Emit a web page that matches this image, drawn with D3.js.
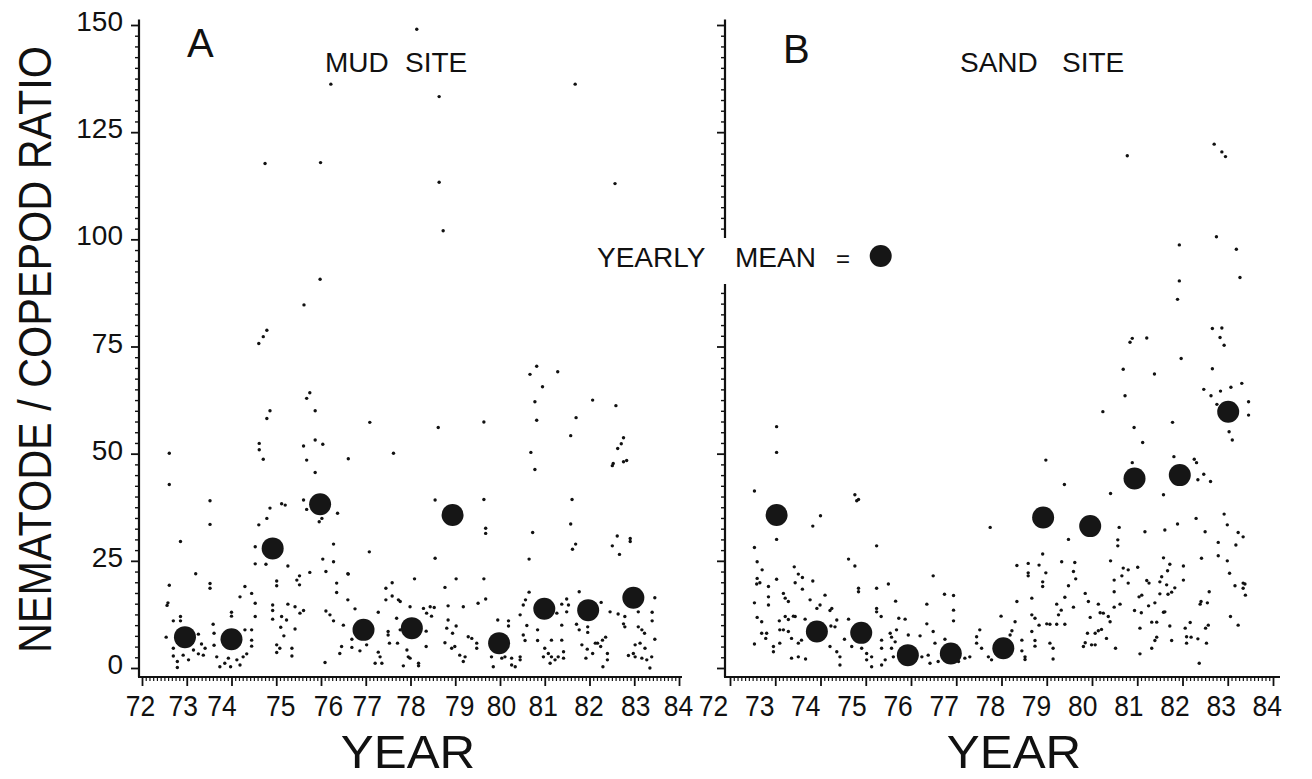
<!DOCTYPE html>
<html>
<head>
<meta charset="utf-8">
<script src="https://cdn.jsdelivr.net/npm/d3@7"></script>
<style>
  html, body { margin: 0; padding: 0; background: #fff; }
  svg { display: block; }
  text { font-family: "Liberation Sans", Arial, Helvetica, sans-serif; fill: #111; }
</style>
</head>
<body>
<svg id="chart" width="1312" height="779"></svg>
<script>
// ---------------- DATA ----------------
const yearTicks = [72,73,74,75,76,77,78,79,80,81,82,83,84];
const ratioTicks = [0,25,50,75,100,125,150];

// Panel A: mud site — individual samples [year, ratio]
const mudSamples = [
[74.61,75.7],[74.71,77.3],[74.79,78.8],[74.75,117.7],[75.62,84.7],[75.98,90.7],[75.99,117.9],[76.22,136.2],[78.14,149.0],[78.64,133.3],[78.64,113.3],[78.73,102.0],[81.68,136.2],[82.57,113.0],
[74.79,58.2],[74.86,60.0],[75.68,62.9],[75.75,64.2],[75.87,60.0],[75.87,53.2],[76.04,52.2],[75.61,51.8],[75.68,48.5],[75.87,45.6],[76.61,48.8],[77.09,57.3],[77.62,50.1],[78.55,39.2],[78.62,56.1],[78.55,25.6],[77.08,27.1],[76.61,21.9],[78.09,20.8],
[74.62,52.4],[74.62,50.9],[74.71,48.7],
[72.61,50.1],[72.61,42.8],[72.86,29.5],[73.2,22.0],[72.61,19.3],[72.56,14.6],[72.58,15.2],[72.70,11.0],[72.86,12.0],[72.86,11.0],[72.54,7.2],[72.70,4.6],[72.70,2.8],[72.79,1.5],[72.79,0.1],[72.92,3.0],[73.04,1.9],[73.26,7.9],[73.41,4.6],[73.37,3.0],[73.26,3.3],[73.15,4.2],[73.33,5.6],
[73.52,39.0],[73.52,33.5],[73.52,19.7],[73.52,18.6],[73.59,10.2],[73.61,8.1],[73.61,5.3],[74.0,13.0],[74.0,12.1],
[74.19,16.6],[74.30,19.0],[74.45,17.4],[74.53,15.1],[74.53,12.0],[74.30,8.9],[74.45,8.9],[74.45,6.5],[74.45,5.1],
[73.67,2.6],[73.74,0.3],[73.85,1.1],[73.93,2.3],[73.98,0.3],[74.12,1.9],[74.19,0.7],[74.34,3.3],[74.26,2.6],
[74.86,37.3],[74.79,34.9],[74.61,33.4],[75.12,38.3],[75.2,38.0],[75.61,39.2],[75.68,37.0],[76.02,34.9],[75.96,34.1],[76.37,36.1],
[74.53,28.3],[74.53,24.3],[74.77,24.2],[75.26,23.8],[75.46,20.5],[75.52,21.5],[75.52,19.4],[75.75,22.3],[76.04,25.4],[76.11,22.5],[76.28,28.9],[76.28,24.8],[76.6,22.0],
[75.01,20.3],[75.01,19.2],[74.92,14.7],[74.92,13.4],[74.92,11.4],[75.12,12.0],[75.23,11.2],[75.17,7.5],[75.1,9.5],[75.26,14.9],[75.42,14.3],[75.53,12.8],[75.61,13.4],[75.42,9.1],
[75.01,5.4],[75.08,4.6],[75.35,4.6],[75.35,2.8],[75.01,3.6],
[76.11,13.3],[76.2,12.4],[76.28,11.0],[76.35,19.8],[76.35,17.6],[76.6,15.9],[76.09,1.3],[76.5,10.0],[76.76,13.8],
[76.69,6.7],[76.46,5.0],[76.42,3.4],[76.69,4.8],[76.87,4.0],[77.02,5.4],[77.28,3.7],[77.32,2.6],[77.21,1.1],[77.36,1.1],[77.28,13.0],
[77.45,18.6],[77.59,19.9],[77.45,15.9],[77.59,16.8],[77.73,15.9],[77.77,15.5],[77.5,8.5],[77.5,7.7],[77.53,5.8],[77.69,11.6],[77.77,8.9],[77.71,5.8],
[77.92,4.2],[77.95,2.6],[77.84,0.5],
[79.64,57.4],[80.78,62.1],[80.82,57.8],[81.7,58.4],[81.58,54.2],[82.07,62.5],[82.59,61.2],[82.76,53.7],[82.71,52.3],[82.63,51.2],[82.53,47.7],[82.51,47.2],[82.76,48.1],[82.83,48.4],[80.69,50.3],[80.78,46.3],
[80.82,70.4],[80.67,68.5],[81.29,69.1],[80.95,65.6],
[79.64,39.3],[79.68,32.6],[79.68,31.4],[80.73,31.6],[80.65,25.4],[81.61,39.3],[81.58,33.6],[81.69,28.9],[81.62,27.7],[82.62,30.8],[82.51,28.5],[82.67,26.5],[82.91,30.2],[82.91,29.5],
[79.02,20.8],[78.77,18.8],[79.64,20.8],
[77.99,14.3],[78.29,13.9],[78.44,14.3],[78.53,14.1],[78.36,12.8],[78.47,12.1],[78.35,8.6],[78.35,5.0],[77.99,2.3],[78.18,1.1],[78.18,0.5],
[78.84,14.5],[79.18,14.3],[79.51,15.1],[79.68,16.1],[78.84,11.2],[79.02,9.8],[78.81,9.3],[78.77,5.9],[78.94,8.1],[78.99,5.0],[78.92,4.6],[79.1,3.0],[79.22,2.6],[79.18,1.5],[79.29,7.3],[79.37,6.9],[79.48,5.8],[79.48,4.6],
[79.95,11.2],[80.19,11.0],[80.19,9.8],[79.81,2.6],[79.85,0.3],[80.04,2.3],[80.11,2.6],[80.26,2.3],[80.26,0.7],[80.34,0.3],[80.45,2.6],[80.45,1.9],
[80.45,12.4],[80.52,14.7],[80.57,15.9],[80.65,17.7],
[80.6,9.9],[80.52,7.7],[80.56,6.4],[80.84,8.9],[80.84,6.4],[81.15,6.5],[81.38,6.5],[81.38,10.0],[81.38,14.9],[81.27,12.8],
[81.0,4.6],[81.08,3.4],[81.15,2.6],[81.23,1.9],[81.12,1.1],[81.3,2.6],[81.42,2.3],[80.97,2.6],[81.42,3.8],
[81.49,16.1],[81.53,14.7],[81.49,13.1],[81.77,17.8],[81.71,10.2],[81.77,8.9],[81.96,9.6],[81.96,8.3],[82.26,15.3],
[81.83,5.4],[81.95,4.4],[81.92,2.3],[82.07,3.4],[82.18,5.8],[82.29,6.5],[82.36,7.2],[82.4,3.4],[82.4,1.9],[82.3,0.3],[82.13,5.8],[82.25,5.0],
[82.46,13.1],[82.64,12.6],[82.79,12.0],[82.79,9.6],[82.76,10.3],
[83.46,16.4],[83.4,13.0],[83.4,11.0],[83.46,6.7],[83.09,13.1],
[83.09,9.6],[83.17,8.9],[83.23,8.1],[83.02,5.4],[83.13,5.8],[82.98,3.4],[82.87,2.9],[83.02,2.6],[83.24,4.6],[83.17,2.3],[83.28,1.9],[83.39,2.6],[83.35,0.0]
];

// Panel A: yearly means [year, ratio]
const mudMeans = [
[72.96,7.2],[74.0,6.7],[74.92,27.9],[75.98,38.2],[76.95,8.9],[78.03,9.3],[78.94,35.7],[79.98,5.8],[80.99,13.8],[81.97,13.5],[82.98,16.4]
];

// Panel B: sand site — individual samples [year, ratio]
const sandSamples = [
[73.03,56.3],[73.03,50.3],[72.54,41.3],[73.03,30.0],[72.54,28.1],[72.6,24.8],[72.71,22.9],[72.6,20.9],[72.66,19.9],[72.59,19.6],[72.85,19.0],[73.03,20.7],
[72.54,15.2],[72.6,11.8],[72.7,10.8],[72.54,5.6],[72.85,16.6],[72.85,14.7],
[72.7,8.1],[72.81,8.1],[72.79,6.9],[72.96,5.0],[72.96,3.8],[73.1,5.8],[73.1,8.9],[73.18,8.9],[73.29,8.5],[73.36,6.9],
[73.09,11.0],[73.22,12.0],[73.29,11.3],[73.4,12.1],[73.44,12.0],
[73.18,17.4],[73.22,16.3],[73.29,15.5],[73.42,23.6],[73.51,21.9],[73.6,21.1],[73.44,19.9],[73.6,18.4],[73.77,15.9],[73.83,20.3],
[73.36,2.3],[73.51,2.6],[73.67,2.1],[73.51,5.8],[73.58,6.5],
[73.66,11.4],[73.92,13.9],[73.99,14.7],[74.1,17.0],[74.25,13.9],[74.21,13.4],
[73.83,33.1],[74.0,35.5],
[74.21,5.0],[74.36,3.8],[74.43,2.6],[74.43,0.7],[74.32,9.6],[74.36,11.2],[74.23,9.8],
[74.53,6.7],[74.69,5.0],[74.62,11.4],
[74.76,40.4],[74.84,39.3],[74.8,39.0],
[74.62,25.4],[74.76,23.8],[74.84,18.6],[74.84,17.8],
[74.91,4.6],[75.02,3.4],[75.02,1.9],[75.13,0.3],[75.13,2.6],[75.35,6.5],[75.35,4.6],[75.43,1.9],[75.35,0.7],
[75.24,28.5],[75.24,18.6],[75.24,13.9],[75.24,13.1],[75.34,12.0],
[75.5,19.6],[75.66,15.6],[75.54,8.1],[75.57,7.2],[75.68,8.9],[75.73,11.6],[75.87,11.4],[75.94,7.7],[76.2,7.5],
[75.57,4.6],[75.61,2.6],[75.65,6.1],
[76.35,14.9],[76.35,10.3],[76.49,21.5],[76.49,8.5],[76.53,5.8],[76.74,17.2],[76.94,16.9],[76.94,13.5],[76.94,11.0],[76.75,6.7],
[76.38,3.0],[76.42,1.1],[76.6,1.5],[76.24,2.6],
[77.19,2.3],[77.3,2.6],[77.05,1.5],
[77.75,32.8],
[77.99,12.1],[77.52,8.9],[77.45,7.3],[77.45,5.8],[77.56,4.6],[77.71,2.6],[77.78,1.9],
[78.3,10.8],[78.23,8.7],[78.19,7.7],[78.45,6.5],[78.45,4.0],[78.52,2.6],[78.52,2.0],
[78.34,23.9],[78.34,15.5],
[78.98,48.5],
[78.59,24.4],[78.59,22.2],[78.59,21.5],[78.83,24.0],[78.98,22.2],[78.91,26.6],[78.91,20.1],[78.91,19.0],
[78.67,16.3],[78.67,12.4],[78.74,11.6],[78.67,8.5],[78.74,6.4],[78.74,5.1],[78.83,10.0],[79.0,10.3],[79.07,10.2],[79.07,5.8],[79.14,4.6],[79.14,2.1],
[79.39,42.8],[79.48,30.0],
[79.33,24.8],[79.62,24.6],[79.59,22.5],[79.64,20.8],[79.48,19.2],[79.4,16.5],[79.59,14.2],[79.22,14.9],[79.32,13.5],[79.26,12.4],[79.22,10.2],[79.4,10.2],
[79.85,17.4],[79.92,15.5],[80.14,14.9],[80.18,12.9],[80.25,12.8],[80.36,12.0],[80.4,10.8],[79.96,11.8],[79.9,8.1],[79.85,5.9],[79.81,5.0],[79.99,5.4],[80.07,5.4],[80.07,8.1],[80.14,8.7],[80.21,9.0],[80.32,6.9],[80.52,4.6],
[80.24,59.8],[80.41,40.7],
[80.6,32.8],[80.57,29.9],[80.57,28.5],[80.41,25.0],[80.49,20.5],[80.49,17.8],[80.62,14.9],[80.49,14.2],[80.69,23.3],[80.66,21.5],[80.8,22.9],[80.8,19.8],[81.01,23.5],
[80.93,56.1],[81.12,52.6],[80.89,47.9],
[81.58,40.4],[81.17,31.8],[81.61,32.2],[81.89,33.6],
[81.21,20.4],[81.26,19.8],[81.5,20.1],[81.54,21.3],[81.58,25.7],[81.67,22.7],[81.72,24.2],[81.65,19.4],[81.68,17.2],[81.76,17.7],[81.83,18.7],[82.02,23.8],[82.02,20.5],
[81.04,16.6],[81.1,17.0],[80.94,13.4],[81.09,12.9],[81.25,14.5],[81.39,15.2],[81.5,17.3],[81.58,13.0],[81.61,13.1],[81.32,10.7],[81.43,10.7],[81.72,9.8],[81.43,7.2],[81.39,6.4],[81.32,4.6],[81.76,6.4],[81.06,9.3],[81.06,3.3],
[81.81,49.3],[81.78,57.3],[82.26,48.7],[82.31,47.9],[82.47,45.2],[82.34,43.9],[82.62,43.5],
[82.3,34.9],[82.5,31.8],[82.42,25.6],[82.59,17.8],[82.55,15.2],[82.39,14.9],[82.41,15.5],[82.51,9.3],[82.57,10.0],[82.17,10.6],[82.06,9.3],[82.09,7.3],[82.19,7.2],[82.34,6.8],[82.09,5.8],[82.53,5.8],[82.37,1.1],
[82.92,35.9],[82.99,33.4],[82.79,29.3],[82.79,26.2],[82.99,25.0],[83.04,22.1],[83.16,19.2],[83.18,28.7],[83.23,31.6],[83.34,30.6],[83.34,19.8],[83.38,19.6],[83.34,18.6],[83.39,17.0],[83.06,12.0],[83.23,10.0],
[82.76,61.5],[83.46,62.1],[83.46,59.0],[83.03,55.1],[83.1,53.2],
[80.78,119.5],[82.7,122.2],[82.87,120.4],[82.95,119.3],[81.93,98.7],[81.93,90.3],[81.89,86.0],[82.75,100.6],[83.19,97.7],[83.27,91.1],
[82.66,79.2],[82.87,79.3],[82.83,77.1],[82.92,75.3],[80.89,76.9],[80.84,76.0],[81.21,77.0],[81.97,72.2],[80.69,69.7],[81.38,68.6],[80.73,63.5],[82.66,69.8],
[82.47,65.0],[82.63,63.5],[82.84,64.6],[83.07,65.5],[83.31,66.4]
];

// Panel B: yearly means [year, ratio]
const sandMeans = [
[73.03,35.7],[73.92,8.5],[74.9,8.2],[75.93,3.0],[76.88,3.4],[78.04,4.6],[78.92,35.1],[79.96,33.1],[80.94,44.2],[81.94,45.0],[83.01,59.8]
];

// ---------------- DRAW ----------------
const svg = d3.select("#chart");
const ink = "#111";

const y = d3.scaleLinear().domain([0,150]).range([668,25]);
const xA = d3.scaleLinear().domain([72,84]).range([142,679]);
const xB = d3.scaleLinear().domain([72,84]).range([730,1273]);

const minorY = d3.range(0,150.01,2.5).filter(v => v % 25 !== 0);
const minorX = d3.range(0,145).map(i => 72 + i/12).filter(v => Math.abs(v - Math.round(v)) > 1e-6);

// label nudges (layout only) reproducing the original's uneven lettering of years
const labelShiftA = [-2,-4,-10,4,7,1,0,4,1,-2,-1,1,-1];
const labelShiftB = yearTicks.map((d,i) => -17 + i*0.9);

function panel(x, axisX, xEnd, showYLabels, samples, means, shifts) {
  const baseY = y(-2.1);
  const g = svg.append("g");

  // y axis line
  g.append("line").attr("x1",axisX).attr("x2",axisX)
    .attr("y1",y(151.3)).attr("y2",baseY)
    .attr("stroke",ink).attr("stroke-width",2.2);
  // x axis line
  g.append("line").attr("x1",axisX-1).attr("x2",xEnd)
    .attr("y1",baseY).attr("y2",baseY)
    .attr("stroke",ink).attr("stroke-width",2.2);

  // y major ticks
  const yAxis = d3.axisLeft(y).tickValues(ratioTicks).tickSize(8).tickPadding(8)
      .tickFormat(showYLabels ? d3.format("d") : () => "");
  const gy = g.append("g").attr("transform",`translate(${axisX},0)`).call(yAxis);
  gy.select(".domain").remove();
  gy.selectAll(".tick line").attr("stroke",ink).attr("stroke-width",1.8);
  gy.selectAll(".tick text").attr("font-size",28).attr("dy","0.2em")
    .style("font-family",'"Liberation Sans", Arial, sans-serif').attr("fill",ink);
  // y minor ticks
  const gym = g.append("g").attr("transform",`translate(${axisX},0)`)
    .call(d3.axisLeft(y).tickValues(minorY).tickSize(4).tickFormat(() => ""));
  gym.select(".domain").remove();
  gym.selectAll(".tick line").attr("stroke",ink).attr("stroke-width",1.4);

  // x major ticks
  const xAxis = d3.axisBottom(x).tickValues(yearTicks).tickSize(9).tickPadding(9).tickFormat(d3.format("d"));
  const gx = g.append("g").attr("transform",`translate(0,${baseY})`).call(xAxis);
  gx.select(".domain").remove();
  gx.selectAll(".tick line").attr("stroke",ink).attr("stroke-width",1.8);
  gx.selectAll(".tick text").attr("font-size",30)
    .attr("transform",(d,i) => `translate(${shifts[i]},0) scale(0.88,1)`)
    .style("font-family",'"Liberation Sans", Arial, sans-serif').attr("fill",ink);
  // x minor ticks (monthly)
  const gxm = g.append("g").attr("transform",`translate(0,${baseY})`)
    .call(d3.axisBottom(x).tickValues(minorX).tickSize(4).tickFormat(() => ""));
  gxm.select(".domain").remove();
  gxm.selectAll(".tick line").attr("stroke",ink).attr("stroke-width",1.2);

  // samples
  g.append("g").selectAll("circle").data(samples).join("circle")
    .attr("cx", d => x(d[0])).attr("cy", d => y(d[1])).attr("r", 1.7).attr("fill", ink);
  // means
  g.append("g").selectAll("circle").data(means).join("circle")
    .attr("cx", d => x(d[0])).attr("cy", d => y(d[1])).attr("r", 11).attr("fill", "#161616");
}

panel(xA, 139, 682, true, mudSamples, mudMeans, labelShiftA);
panel(xB, 725, 1280, false, sandSamples, sandMeans, labelShiftB);

// panel letters & titles
svg.append("text").attr("x",187).attr("y",57).attr("font-size",40).text("A");
svg.append("text").attr("x",783).attr("y",63).attr("font-size",40).text("B");
svg.append("text").attr("x",325).attr("y",72).attr("font-size",28).text("MUD");
svg.append("text").attr("x",405).attr("y",72).attr("font-size",28).text("SITE");
svg.append("text").attr("x",960).attr("y",72).attr("font-size",28).text("SAND");
svg.append("text").attr("x",1062).attr("y",72).attr("font-size",28).text("SITE");

// legend (breaks panel B's y axis)
svg.append("rect").attr("x",588).attr("y",238).attr("width",310).attr("height",46).attr("fill","#fff");
svg.append("text").attr("x",597).attr("y",267).attr("font-size",28).text("YEARLY");
svg.append("text").attr("x",735).attr("y",267).attr("font-size",28).text("MEAN");
svg.append("text").attr("x",843).attr("y",267).attr("font-size",24).attr("text-anchor","middle").text("=");
svg.append("circle").attr("cx",880.7).attr("cy",256).attr("r",11).attr("fill","#161616");

// axis titles (condensed along the reading direction with a scale transform)
svg.append("text").attr("transform","translate(51,349.5) rotate(-90) scale(0.9,1)")
  .attr("text-anchor","middle").attr("font-size",46)
  .text("NEMATODE / COPEPOD  RATIO");
svg.append("text").attr("transform","translate(408,768) scale(1.05,1)")
  .attr("text-anchor","middle").attr("font-size",47).text("YEAR");
svg.append("text").attr("transform","translate(1014,768) scale(1.05,1)")
  .attr("text-anchor","middle").attr("font-size",47).text("YEAR");
</script>
</body>
</html>
